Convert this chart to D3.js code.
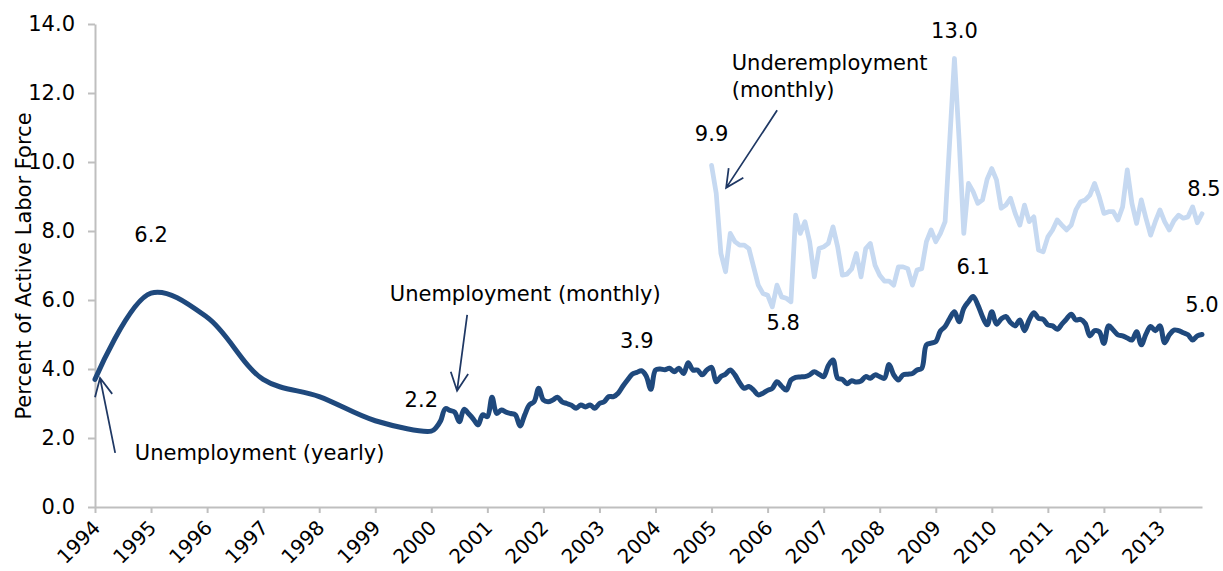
<!DOCTYPE html>
<html>
<head>
<meta charset="utf-8">
<script src="https://cdn.jsdelivr.net/npm/d3@7"></script>
<style>
body { margin: 0; background: #fff; }
svg text { font-family: "DejaVu Sans", Verdana, sans-serif; font-size: 21px; fill: #000; }
</style>
</head>
<body>
<div id="chart"></div>
<script>
// yearly unemployment 1994-2000
var yearlyYears = [1994, 1995, 1996, 1997, 1998, 1999, 2000];
var yearlyUnemp = [3.7, 6.2, 5.5, 3.7, 3.2, 2.5, 2.2];

// monthly unemployment, Feb 2000 .. Oct 2013
var monthlyStart = 2000 + 1 / 12;
var monthlyUnemp = [
  2.3, 2.5, 2.85, 2.8, 2.75, 2.47, 2.83, 2.7, 2.55, 2.38, 2.67, 2.62,
  3.18, 2.71, 2.81, 2.75, 2.71, 2.67, 2.35, 2.67, 2.96, 3.05, 3.44, 3.10,
  3.05, 3.10, 3.18, 3.05, 3.0, 2.95, 2.86, 2.96, 2.9, 2.96, 2.86, 3.0,
  3.05, 3.2, 3.2, 3.3, 3.5, 3.68, 3.85, 3.9, 3.95, 3.8, 3.41, 3.97,
  4.0, 3.98, 4.02, 3.92, 4.02, 3.87, 4.18, 3.97, 3.97, 3.83, 3.97, 4.05,
  3.63, 3.78, 3.85, 3.97, 3.83, 3.6, 3.44, 3.49, 3.39, 3.25, 3.30, 3.38,
  3.44, 3.63, 3.5, 3.39, 3.68, 3.76, 3.77, 3.78, 3.83, 3.92, 3.85, 3.78,
  4.1, 4.26, 3.73, 3.70, 3.57, 3.66, 3.62, 3.65, 3.78, 3.73, 3.83, 3.78,
  3.73, 4.13, 3.83, 3.68, 3.83, 3.85, 3.87, 3.97, 4.02, 4.70, 4.75, 4.79,
  5.1, 5.23, 5.47, 5.66, 5.37, 5.76, 5.95, 6.10, 5.86, 5.52, 5.28, 5.66,
  5.30, 5.45, 5.52, 5.35, 5.25, 5.42, 5.11, 5.42, 5.63, 5.47, 5.44, 5.28,
  5.25, 5.15, 5.3, 5.45, 5.59, 5.42, 5.44, 5.32, 4.96, 5.11, 5.08, 4.74,
  5.25, 5.13, 4.99, 4.96, 4.9, 4.84, 5.08, 4.70, 5.01, 5.23, 5.11, 5.25,
  4.76, 4.99, 5.13, 5.11, 5.05, 4.99, 4.84, 4.96, 5.0
];

// monthly underemployment, Jan 2005 .. Oct 2013
var underStart = 2005;
var underemp = [
  9.9, 9.09, 7.35, 6.82, 7.93, 7.69, 7.59, 7.59, 7.49, 6.96, 6.43, 6.19,
  6.14, 5.8, 6.43, 6.09, 6.05, 5.95, 8.46, 7.93, 8.27, 7.69, 6.67, 7.49,
  7.54, 7.64, 8.12, 7.54, 6.72, 6.75, 6.9, 7.35, 6.67, 7.49, 7.64, 7.01,
  6.72, 6.55, 6.55, 6.43, 6.96, 6.96, 6.91, 6.43, 6.87, 6.91, 7.69, 8.03,
  7.69, 7.93, 8.27, 10.64, 13.0, 10.64, 7.93, 9.38, 9.14, 8.80, 8.90, 9.5,
  9.81, 9.48, 8.66, 8.75, 8.95, 8.51, 8.17, 8.75, 8.27, 8.41, 7.45, 7.40,
  7.83, 8.03, 8.32, 8.17, 8.03, 8.17, 8.61, 8.85, 8.90, 9.04, 9.38, 8.99,
  8.51, 8.56, 8.56, 8.32, 8.70, 9.77, 8.80, 8.22, 8.90, 8.37, 7.88, 8.27,
  8.61, 8.27, 8.03, 8.3, 8.46, 8.37, 8.41, 8.70, 8.24, 8.5
];

var xTickYears = d3.range(1994, 2014);
var yTickValues = [0, 2, 4, 6, 8, 10, 12, 14];

// value labels: text, year, value, offsets
var valueLabels = [
  {text: "6.2", year: 1995, value: 6.2, dx: 0, dy: -51},
  {text: "2.2", year: 2000, value: 2.2, dx: -10, dy: -24},
  {text: "3.9", year: 2003 + 8 / 12, value: 3.9, dx: 0, dy: -24},
  {text: "9.9", year: 2005, value: 9.9, dx: 0, dy: -24},
  {text: "5.8", year: 2006 + 1 / 12, value: 5.8, dx: 11, dy: 23},
  {text: "13.0", year: 2009 + 4 / 12, value: 13.0, dx: 0, dy: -21},
  {text: "6.1", year: 2009 + 8 / 12, value: 6.1, dx: 0, dy: -23},
  {text: "8.5", year: 2013.75, value: 8.5, dx: 2, dy: -18},
  {text: "5.0", year: 2013.75, value: 5.0, dx: 0, dy: -23}
];

var seriesNotes = [
  {lines: ["Unemployment (yearly)"], year: 1994.71, value: 1.36},
  {lines: ["Unemployment (monthly)"], year: 1999.26, value: 5.97},
  {lines: ["Underemployment", "(monthly)"], year: 2005.36, value: 12.67}
];

// arrows: tail -> head, in data units
var arrows = [
  {from: [1994.36, 1.57], to: [1994.09, 3.74]},
  {from: [2000.64, 5.57], to: [2000.46, 3.37]},
  {from: [2006.17, 11.5], to: [2005.26, 9.25]}
];

var width = 1223, height = 571;

var svg = d3.select("#chart").append("svg")
    .attr("width", width)
    .attr("height", height);

var x = d3.scaleLinear().domain([1994, 2013.75]).range([95, 1202]);
var y = d3.scaleLinear().domain([0, 14]).range([507, 24]);

// build point lists
var unempPoints = yearlyYears.map(function (yr, i) { return [yr, yearlyUnemp[i]]; })
    .concat(monthlyUnemp.map(function (v, i) { return [monthlyStart + i / 12, v]; }));
var underPoints = underemp.map(function (v, i) { return [underStart + i / 12, v]; });

// axes
var yAxis = svg.append("g")
    .attr("transform", "translate(95,0)")
    .call(d3.axisLeft(y).tickValues(yTickValues).tickFormat(d3.format(".1f"))
        .tickSize(7).tickSizeOuter(0).tickPadding(13));

var xAxis = svg.append("g")
    .attr("transform", "translate(0,507)")
    .call(d3.axisBottom(x).tickValues(xTickYears).tickFormat(d3.format("d"))
        .tickSize(6).tickSizeOuter(0));

[xAxis, yAxis].forEach(function (ax) {
  ax.select(".domain").attr("stroke", "#BFBFBF").attr("stroke-width", 2);
  ax.selectAll(".tick line").attr("stroke", "#BFBFBF").attr("stroke-width", 2);
  ax.selectAll("text").style("font-size", "21px").attr("fill", "#000");
});

// rotated year labels
xAxis.selectAll("text")
    .attr("y", 0)
    .attr("dy", "0.35em")
    .attr("text-anchor", "end")
    .style("font-size", "20px")
    .attr("transform", "translate(1,17) rotate(-45)");

svg.append("text")
    .attr("transform", "translate(31,266) rotate(-90)")
    .attr("text-anchor", "middle")
    .text("Percent of Active Labor Force");

// lines
var lineSmooth = d3.line()
    .x(function (d) { return x(d[0]); })
    .y(function (d) { return y(d[1]); })
    .curve(d3.curveCatmullRom.alpha(0.5));

var lineStraight = d3.line()
    .x(function (d) { return x(d[0]); })
    .y(function (d) { return y(d[1]); });

svg.append("path")
    .datum(underPoints)
    .attr("d", lineStraight)
    .attr("fill", "none")
    .attr("stroke", "#C6D9F1")
    .attr("stroke-width", 4.75)
    .attr("stroke-linejoin", "round")
    .attr("stroke-linecap", "round");

svg.append("path")
    .datum(unempPoints)
    .attr("d", lineSmooth)
    .attr("fill", "none")
    .attr("stroke", "#1F497D")
    .attr("stroke-width", 5)
    .attr("stroke-linejoin", "round")
    .attr("stroke-linecap", "round");

// value labels
svg.selectAll("text.vlabel")
    .data(valueLabels)
    .enter().append("text")
    .attr("class", "vlabel")
    .attr("text-anchor", "middle")
    .attr("x", function (d) { return x(d.year) + d.dx; })
    .attr("y", function (d) { return y(d.value) + d.dy; })
    .text(function (d) { return d.text; });

// series notes
var notes = svg.selectAll("text.note")
    .data(seriesNotes)
    .enter().append("text")
    .attr("class", "note")
    .attr("x", function (d) { return x(d.year); })
    .attr("y", function (d) { return y(d.value); });

notes.selectAll("tspan")
    .data(function (d) { return d.lines.map(function (l) { return {line: l, x: x(d.year)}; }); })
    .enter().append("tspan")
    .attr("x", function (d) { return d.x; })
    .attr("dy", function (d, i) { return i === 0 ? 0 : 27; })
    .text(function (d) { return d.line; });

// arrows with open heads
function arrowPath(d) {
  var x1 = x(d.from[0]), y1 = y(d.from[1]);
  var x2 = x(d.to[0]), y2 = y(d.to[1]);
  var a = Math.atan2(y1 - y2, x1 - x2);
  var len = 20, spread = 26 * Math.PI / 180;
  var w1 = [x2 + len * Math.cos(a - spread), y2 + len * Math.sin(a - spread)];
  var w2 = [x2 + len * Math.cos(a + spread), y2 + len * Math.sin(a + spread)];
  return "M" + x1 + "," + y1 + "L" + x2 + "," + y2 +
    "M" + w1[0] + "," + w1[1] + "L" + x2 + "," + y2 + "L" + w2[0] + "," + w2[1];
}

svg.selectAll("path.arrow")
    .data(arrows)
    .enter().append("path")
    .attr("class", "arrow")
    .attr("d", arrowPath)
    .attr("fill", "none")
    .attr("stroke", "#1F3864")
    .attr("stroke-width", 1.75);
</script>
</body>
</html>
